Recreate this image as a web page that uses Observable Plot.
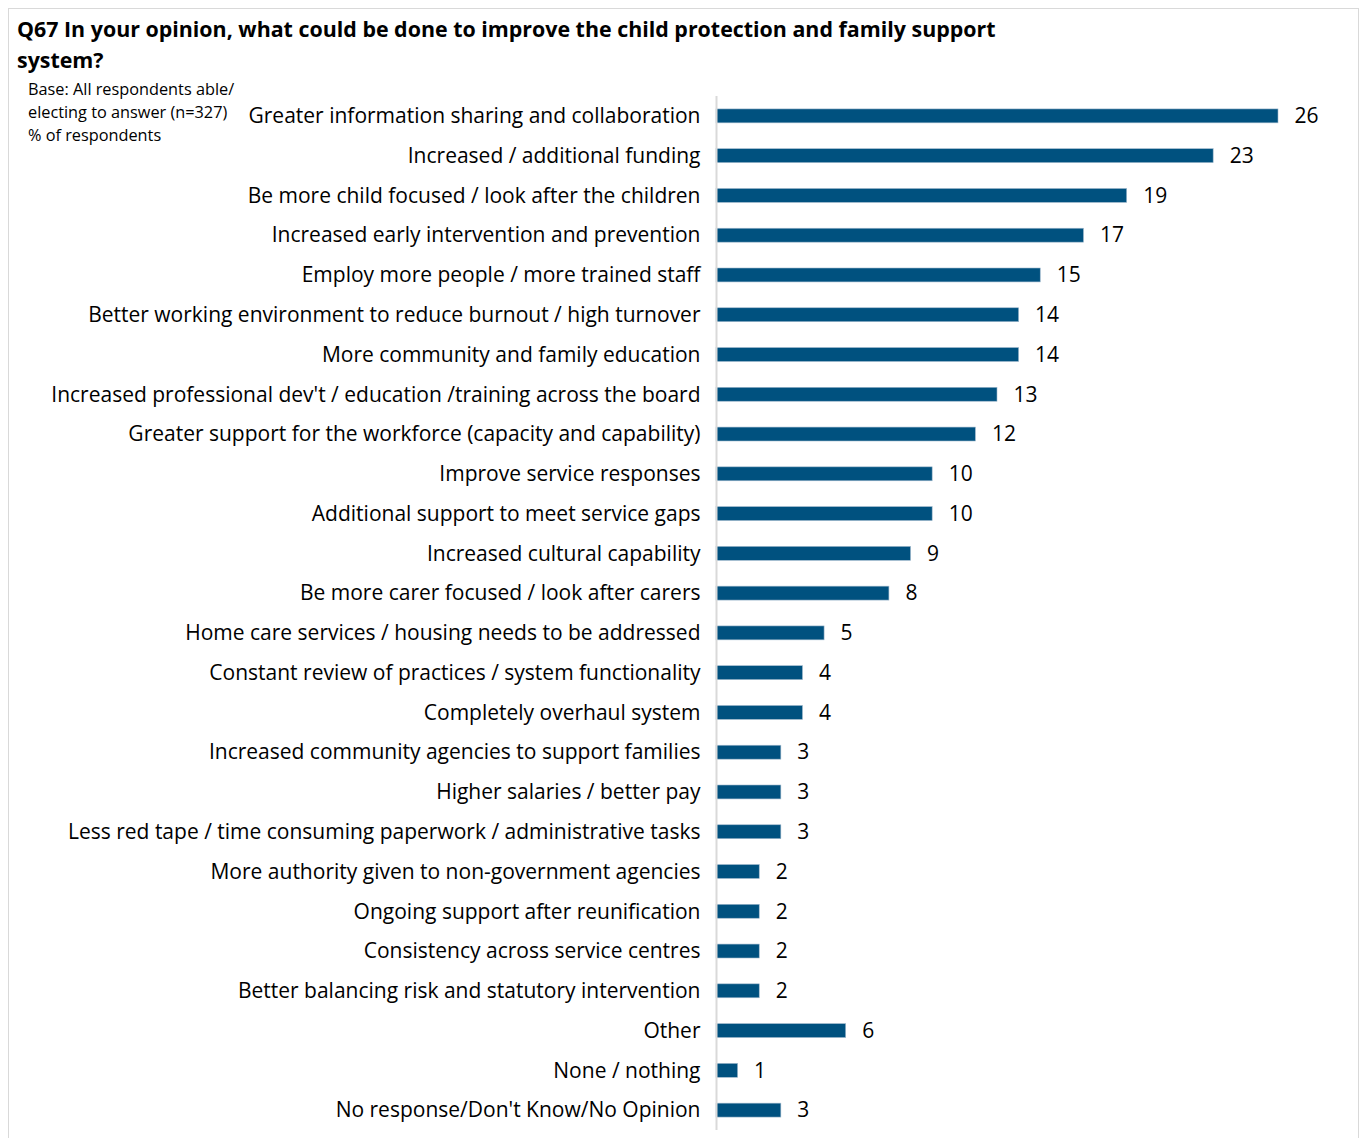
<!DOCTYPE html>
<html>
<head>
<meta charset="utf-8">
<script src="https://cdn.jsdelivr.net/npm/d3@7"></script>
<script src="https://cdn.jsdelivr.net/npm/@observablehq/plot@0.6"></script>
<style>
  html, body { margin: 0; padding: 0; background: #fff; }
  body { width: 1367px; height: 1138px; position: relative; overflow: hidden; font-family: "Open Sans", sans-serif; }
  #frame { position: absolute; left: 8px; top: 8px; width: 1351px; height: 1200px; border: 1px solid #d9d9d9; box-sizing: border-box; }
  #title { position: absolute; left: 17px; top: 13px; font-weight: bold; font-size: 21.4px; line-height: 31px; color: #000; white-space: nowrap; }
  #note { position: absolute; left: 28px; top: 78px; font-size: 16.3px; line-height: 23px; color: #000; }
  #chart { position: absolute; left: 0; top: 0; }
</style>
</head>
<body>
<div id="frame"></div>
<div id="chart"></div>
<div id="title">Q67 In your opinion, what could be done to improve the child protection and family support<br>system?</div>
<div id="note">Base: All respondents able/<br>electing to answer (n=327)<br>% of respondents</div>
<script>
const categories = [
  "Greater information sharing and collaboration",
  "Increased / additional funding",
  "Be more child focused / look after the children",
  "Increased early intervention and prevention",
  "Employ more people / more trained staff",
  "Better working environment to reduce burnout / high turnover",
  "More community and family education",
  "Increased professional dev't / education /training across the board",
  "Greater support for the workforce (capacity and capability)",
  "Improve service responses",
  "Additional support to meet service gaps",
  "Increased cultural capability",
  "Be more carer focused / look after carers",
  "Home care services / housing needs to be addressed",
  "Constant review of practices / system functionality",
  "Completely overhaul system",
  "Increased community agencies to support families",
  "Higher salaries / better pay",
  "Less red tape / time consuming paperwork / administrative tasks",
  "More authority given to non-government agencies",
  "Ongoing support after reunification",
  "Consistency across service centres",
  "Better balancing risk and statutory intervention",
  "Other",
  "None / nothing",
  "No response/Don't Know/No Opinion"
];
const values = [26, 23, 19, 17, 15, 14, 14, 13, 12, 10, 10, 9, 8, 5, 4, 4, 3, 3, 3, 2, 2, 2, 2, 6, 1, 3];

const data = categories.map((c, i) => ({category: c, value: values[i]}));

const chart = Plot.plot({
  width: 1367,
  height: 1138,
  marginTop: 96,
  marginBottom: 8,
  marginLeft: 716,
  marginRight: 89,
  style: {fontFamily: "'Open Sans', sans-serif", color: "#000", background: "transparent"},
  x: {domain: [0, 26], axis: null},
  y: {domain: categories, paddingInner: 0.65, paddingOuter: 0.325, round: false, label: null},
  marks: [
    Plot.barX(data, {x: "value", y: "category", fill: "#00517f", stroke: "#9fb8cc", strokeWidth: 0.6}),
    Plot.ruleX([0], {stroke: "#d9d9d9", strokeWidth: 2}),
    Plot.axisY({tickSize: 0, tickPadding: 16, fontSize: 21, label: null, fill: "#000"}),
    Plot.text(data, {x: "value", y: "category", text: d => String(d.value), dx: 16, textAnchor: "start", fontSize: 21, fill: "#000"})
  ]
});
document.getElementById("chart").appendChild(chart);
</script>
</body>
</html>
